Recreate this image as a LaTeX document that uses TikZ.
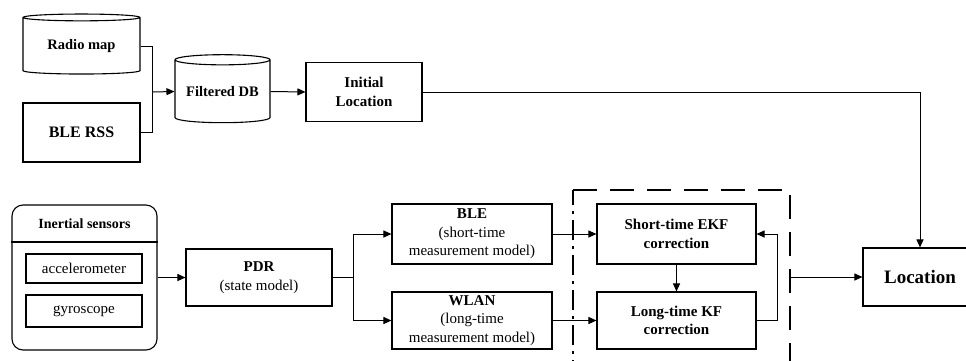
\documentclass[tikz,border=0pt]{standalone}
\usepackage{fontspec}
\setmainfont{Liberation Serif}
\usetikzlibrary{shapes.geometric,arrows.meta,positioning}
\tikzset{
    blk/.style={draw, rectangle, line width=1.1pt, align=center, inner sep=0pt, font=\fontsize{15}{18.5}\selectfont\bfseries},
    cyl/.style={draw, cylinder, shape border rotate=90, shape aspect=0.1, line width=1.1pt, inner sep=0pt, font=\fontsize{14.5}{18}\selectfont\bfseries},
    arr/.style={-{Triangle[length=8pt,width=7pt]}},
    conn/.style={line width=1pt}}

\begin{document}
\begin{tikzpicture}[x=1pt,y=-1pt]
\useasboundingbox (0,0) rectangle (966,360);
% upper row
\node[cyl, minimum width=117pt, minimum height=60pt] (radio) at (81.5,46) {Radio map};
\node[blk, minimum width=117pt, minimum height=59pt, font=\fontsize{16}{19}\selectfont\bfseries] (blerss) at (81.5,132.5) {BLE RSS};
\node[cyl, shape aspect=0.14, minimum width=95pt, minimum height=68pt] (filtered) at (222.5,91.5) {Filtered DB};
\node[blk, minimum width=116pt, minimum height=59pt] (init) at (364,92) {Initial\\Location};
\node[blk, minimum width=114pt, minimum height=58pt, font=\fontsize{19}{22}\selectfont\bfseries] (loc) at (920,277) {Location};
\coordinate (jn) at (152,92);
\draw[conn] (radio.east) -| (jn);
\draw[conn] (blerss.east) -| (jn);
\draw[conn,arr] (jn) -- (filtered.west);
\draw[conn,arr] (filtered.east) -- (init.west);
\draw[conn,arr] (init.east) -| (loc.north);

% inertial sensors
\node[draw, rectangle, rounded corners=11pt, line width=1.1pt, minimum width=145pt, minimum height=145pt] (inertial) at (84.5,277.5) {};
\node[font=\fontsize{14}{17}\selectfont\bfseries] (title) at (84.5,224) {Inertial sensors};
\draw[line width=1.1pt] (inertial.west |- 0,242) -- (inertial.east |- 0,242);
\node[blk, font=\fontsize{15}{18}\selectfont, minimum width=116pt, minimum height=29pt] (acc) at (84,268.5) {accelerometer};
\node[blk, font=\fontsize{15}{18}\selectfont, minimum width=116pt, minimum height=32pt] (gyro) at (84,311) {gyroscope};

% lower row
\node[blk, minimum width=146pt, minimum height=57pt] (pdr) at (259,277.5) {PDR\\\mdseries (state model)};
\node[blk, minimum width=160pt, minimum height=60pt] (ble) at (472,234) {BLE\\\mdseries (short-time\\\mdseries measurement model)};
\node[blk, minimum width=160pt, minimum height=57pt] (wlan) at (472,320.5) {WLAN\\\mdseries (long-time\\\mdseries measurement model)};
\node[blk, minimum width=159pt, minimum height=60pt] (ekf) at (676.5,234) {Short-time EKF\\correction};
\node[blk, minimum width=159pt, minimum height=57pt] (kf) at (676.5,320.5) {Long-time KF\\correction};
\coordinate (sp) at (353,277.5);
\draw[conn,arr] (inertial.east) -- (pdr.west);
\draw[conn] (pdr.east) -- (sp);
\draw[conn,arr] (sp) |- (ble.west);
\draw[conn,arr] (sp) |- (wlan.west);
\draw[conn,arr] (ble.east) -- (ekf.west);
\draw[conn,arr] (wlan.east) -- (kf.west);
\draw[conn,arr] (ekf.south) -- (kf.north);
\draw[conn,arr] (kf.east) -- ++(21,0) |- (ekf.east);

% fusion frame
\coordinate (fbl) at (573,380);
\coordinate (ftl) at (573,190);
\coordinate (ftr) at (790,190);
\coordinate (fbr) at (790,380);
\coordinate (fout) at (790,277);
\draw[line width=1.1pt, dash pattern=on 20pt off 6pt on 3pt off 6pt] (fbl) -- (ftl);
\draw[line width=1.1pt, dash pattern=on 24pt off 13pt] (ftl) -- (ftr) -- (fbr);
\draw[conn,arr] (fout) -- (loc.west);
\end{tikzpicture}
\end{document}
